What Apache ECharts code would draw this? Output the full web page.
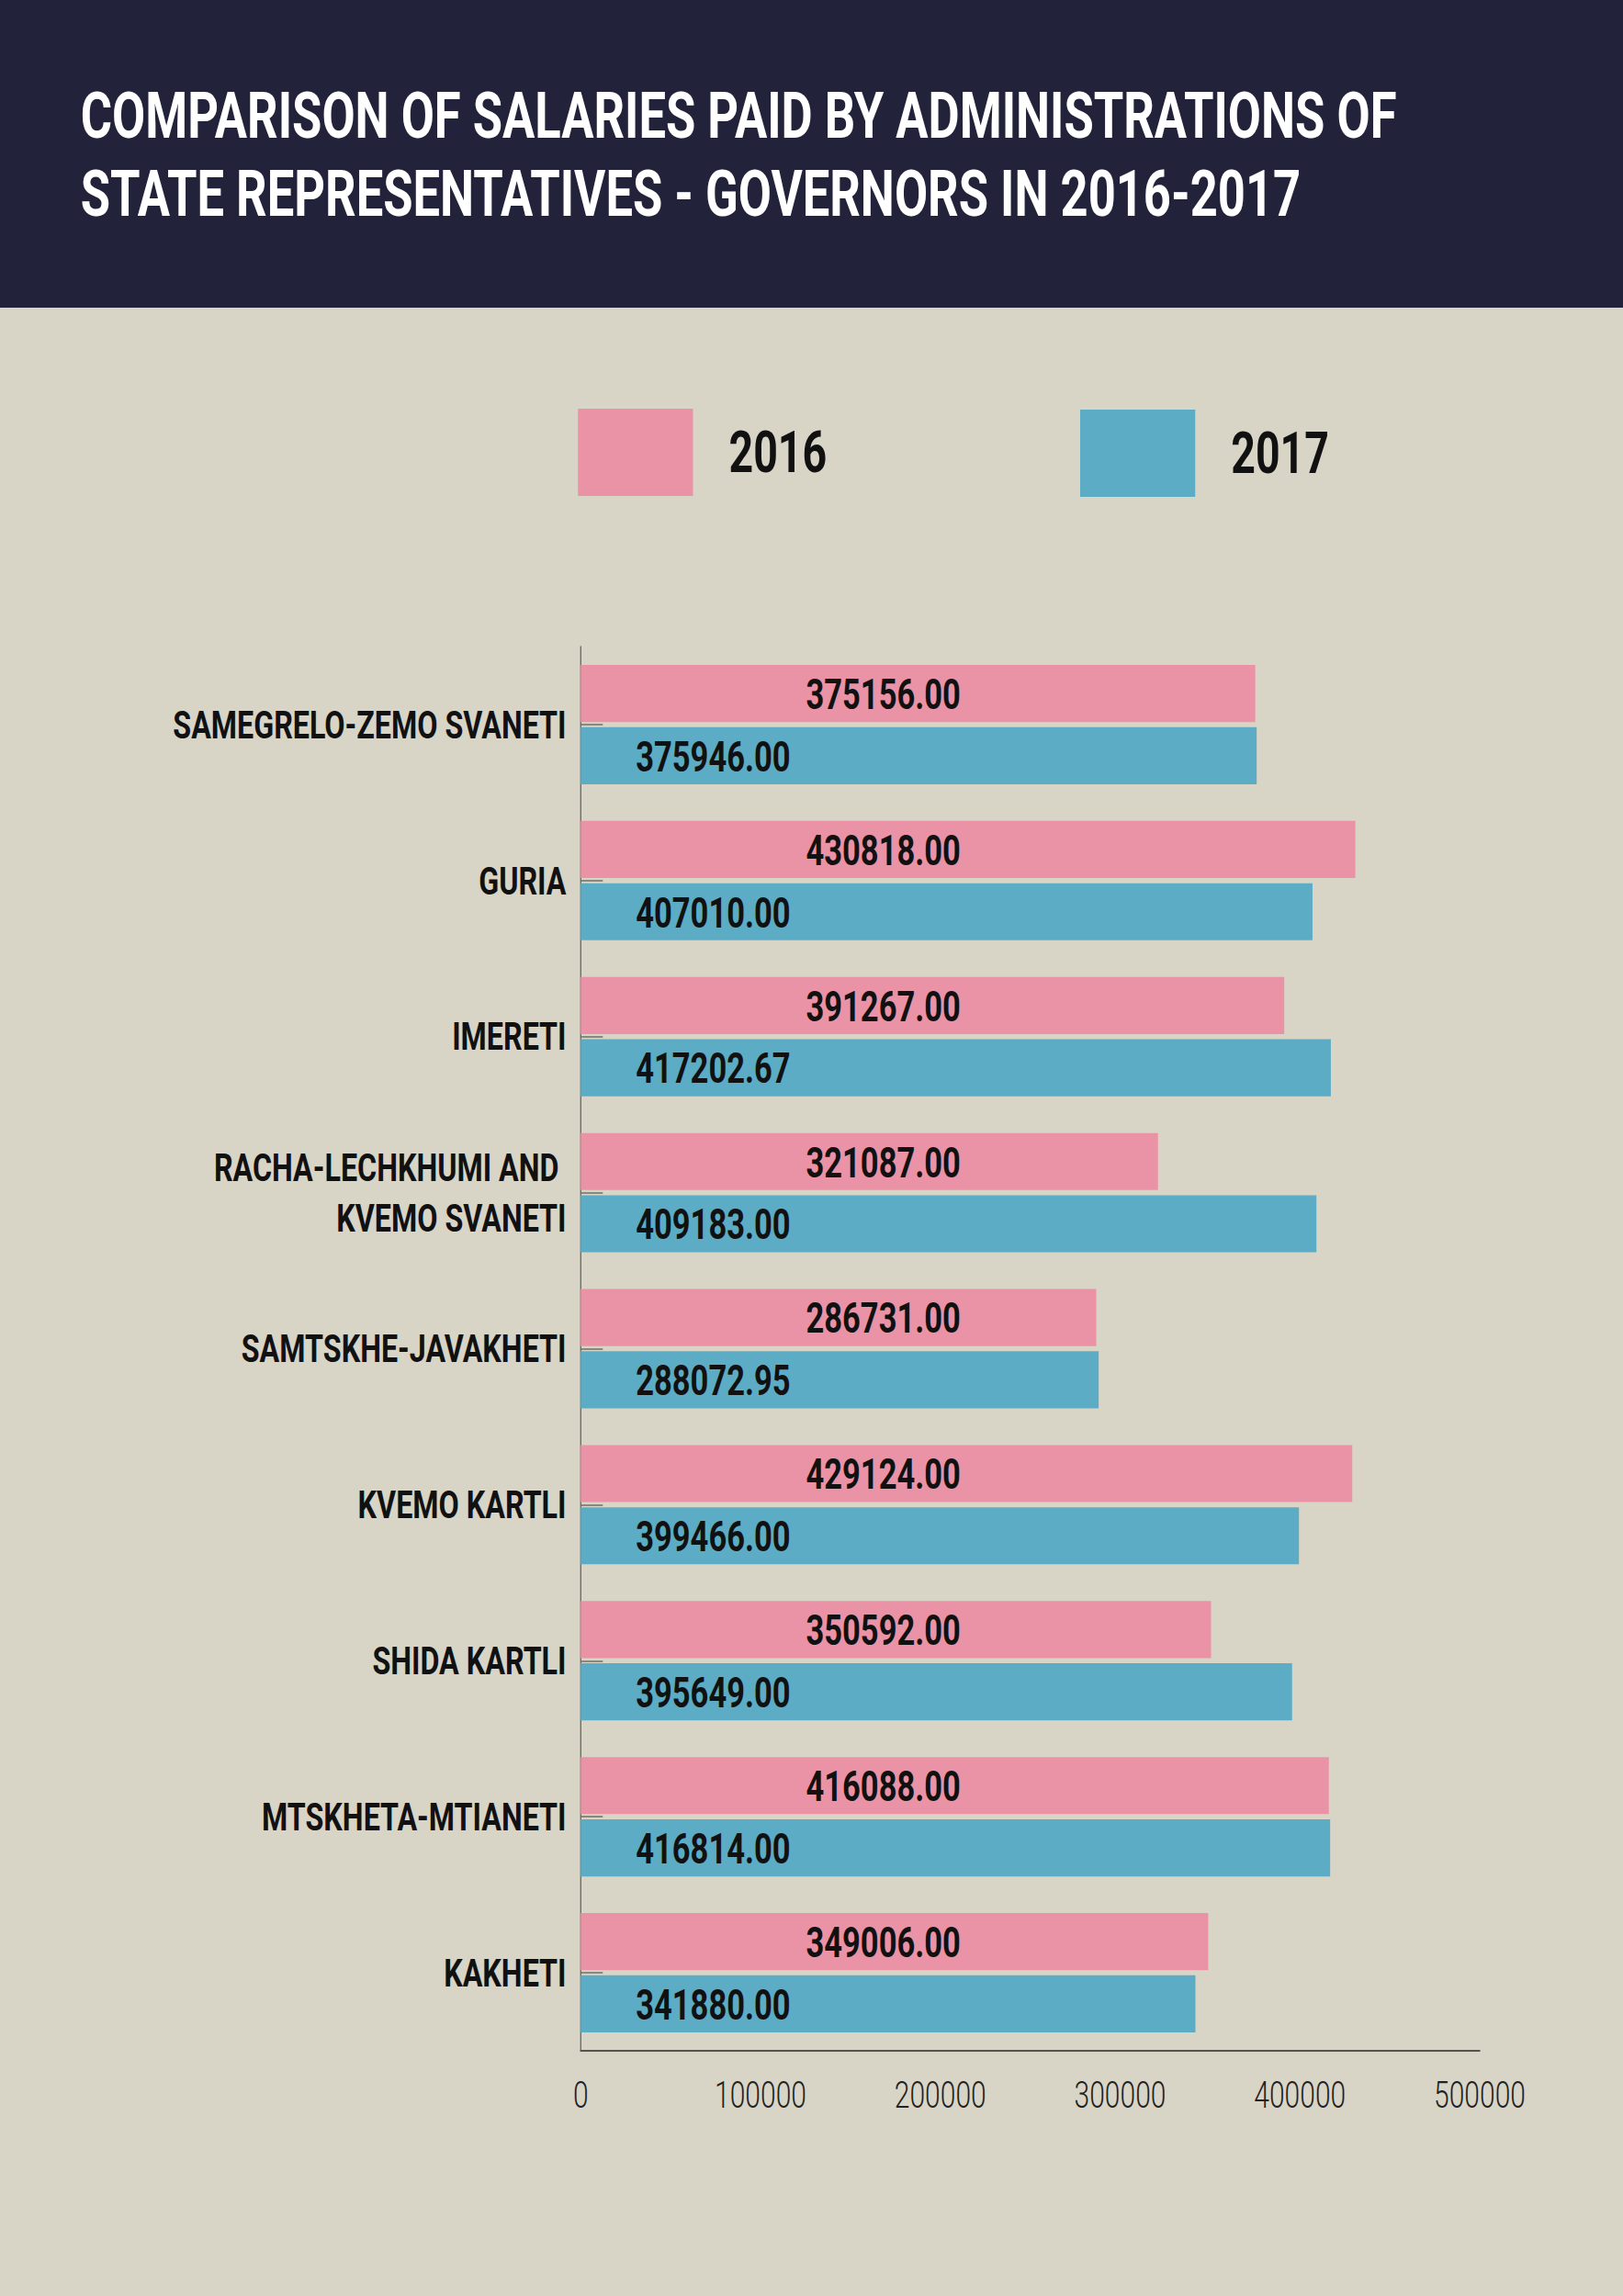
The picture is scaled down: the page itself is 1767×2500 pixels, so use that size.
<!DOCTYPE html>
<html>
<head>
<meta charset="utf-8">
<script src="https://cdn.jsdelivr.net/npm/echarts@6/dist/echarts.min.js"></script>
<style>
  html, body { margin: 0; padding: 0; overflow: hidden; background: #D8D5C7; }
  /* The chart is laid out 1/0.75 wider, then squeezed to give the condensed lettering of the original */
  #c { width: 2356px; height: 2500px; transform: scaleX(0.75); transform-origin: 0 0; }
</style>
</head>
<body>
<div id="c"></div>
<script>
const titleLines = [
  'COMPARISON OF SALARIES PAID BY ADMINISTRATIONS OF',
  'STATE REPRESENTATIVES - GOVERNORS IN 2016-2017'
];
const seriesNames = ['2016', '2017'];
const categories = [
  'SAMEGRELO-ZEMO SVANETI',
  'GURIA',
  'IMERETI',
  'RACHA-LECHKHUMI AND \nKVEMO SVANETI',
  'SAMTSKHE-JAVAKHETI',
  'KVEMO KARTLI',
  'SHIDA KARTLI',
  'MTSKHETA-MTIANETI',
  'KAKHETI'
];
const values2016 = [375156, 430818, 391267, 321087, 286731, 429124, 350592, 416088, 349006];
const values2017 = [375946, 407010, 417202.67, 409183, 288072.95, 399466, 395649, 416814, 341880];
const xTicks = { min: 0, max: 500000, interval: 100000 };

const PINK = '#EB93A6';
const BLUE = '#5CACC5';
const FONT = 'Roboto, "Liberation Sans", sans-serif';

const chart = echarts.init(document.getElementById('c'), null, { renderer: 'svg', width: 2356, height: 2500 });

const legendBase = {
  orient: 'horizontal',
  padding: 0,
  itemWidth: 167,
  itemHeight: 95,
  icon: 'rect',
  selectedMode: false,
  textStyle: {
    fontFamily: FONT, fontWeight: 'bold', fontSize: 62, color: '#111',
    padding: [0, 0, 0, 47]
  }
};

const option = {
  backgroundColor: '#D8D5C7',
  animation: false,
  graphic: [
    { type: 'rect', shape: { x: 0, y: 0, width: 2356, height: 335 }, style: { fill: '#22233A' }, z: 0 },
    { type: 'text', x: 117, y: 126, style: { text: titleLines[0], fill: '#FFFFFF', fontFamily: FONT, fontWeight: 'bold', fontSize: 70, verticalAlign: 'middle', align: 'left' }, z: 1 },
    { type: 'text', x: 117, y: 211, style: { text: titleLines[1], fill: '#FFFFFF', fontFamily: FONT, fontWeight: 'bold', fontSize: 70, verticalAlign: 'middle', align: 'left' }, z: 1 }
  ],
  legend: [
    Object.assign({}, legendBase, { data: [seriesNames[0]], left: 839, top: 445 }),
    Object.assign({}, legendBase, { data: [seriesNames[1]], left: 1568, top: 446 })
  ],
  grid: { left: 843, right: 208, top: 704, bottom: 267, containLabel: false },
  xAxis: {
    type: 'value',
    min: xTicks.min, max: xTicks.max, interval: xTicks.interval,
    splitLine: { show: false },
    axisTick: { show: false },
    axisLine: { show: true, lineStyle: { color: '#55554D', width: 2 } },
    axisLabel: {
      fontFamily: FONT, fontWeight: 300, fontSize: 40, color: '#222', margin: 28, lineHeight: 40,
      formatter: v => String(v)
    }
  },
  yAxis: {
    type: 'category',
    data: categories,
    inverse: true,
    axisLine: { show: true, lineStyle: { color: '#55554D', width: 1.5 } },
    axisTick: { show: true, alignWithLabel: true, inside: true, length: 32, lineStyle: { color: '#6E6E66', width: 1.5 } },
    axisLabel: {
      fontFamily: FONT, fontWeight: 'bold', fontSize: 43, color: '#111', margin: 21, lineHeight: 55
    }
  },
  series: [
    {
      name: seriesNames[0], type: 'bar', data: values2016,
      barCategoryGap: '23.5%', barGap: '9%',
      itemStyle: { color: PINK },
      label: {
        show: true, position: [327, '50%'], offset: [0, 1], align: 'left', verticalAlign: 'middle',
        fontFamily: FONT, fontWeight: 'bold', fontSize: 46, color: '#111',
        formatter: p => p.value.toFixed(2)
      }
    },
    {
      name: seriesNames[1], type: 'bar', data: values2017,
      barCategoryGap: '23.5%', barGap: '9%',
      itemStyle: { color: BLUE },
      label: {
        show: true, position: [80, '50%'], offset: [0, 1], align: 'left', verticalAlign: 'middle',
        fontFamily: FONT, fontWeight: 'bold', fontSize: 46, color: '#111',
        formatter: p => p.value.toFixed(2)
      }
    }
  ]
};
chart.setOption(option);
</script>
</body>
</html>
